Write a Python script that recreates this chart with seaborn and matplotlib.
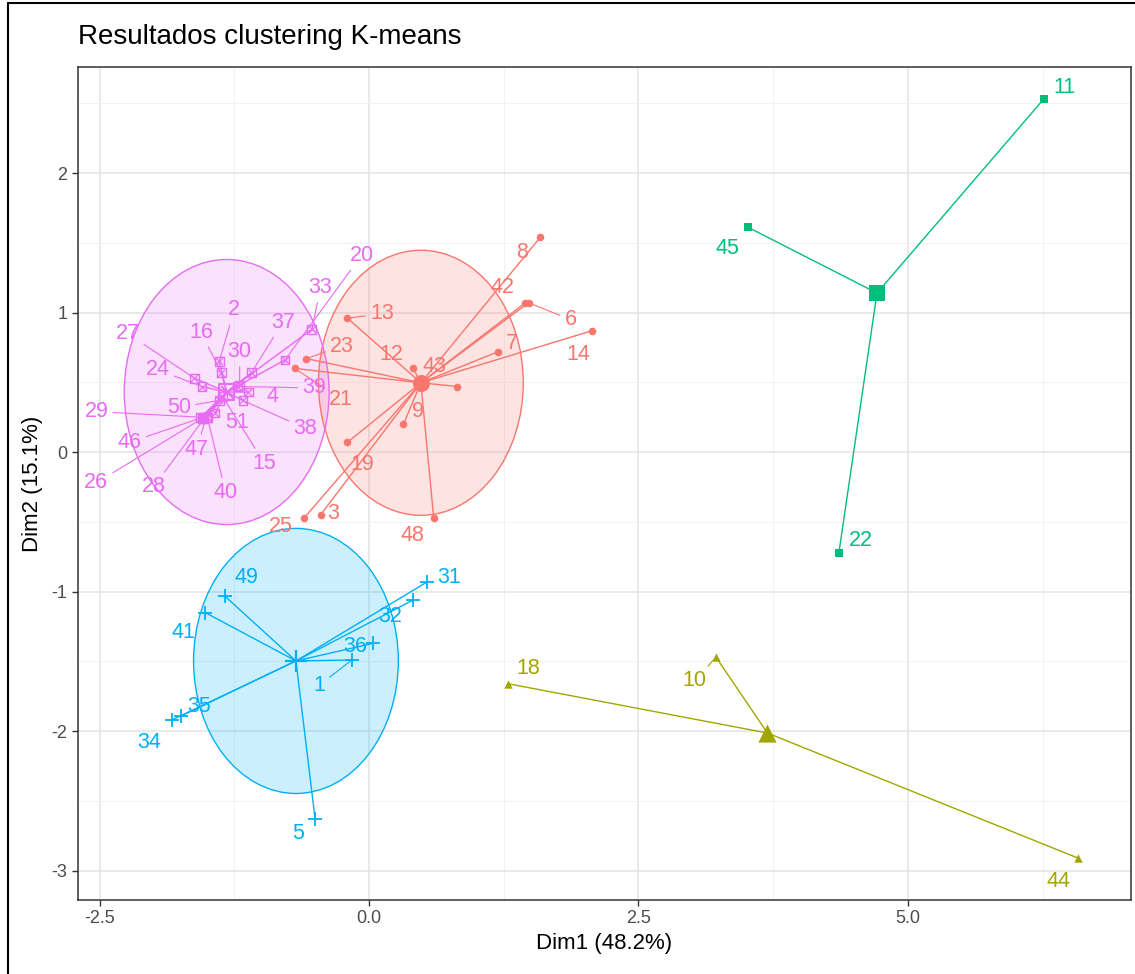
import numpy as np
import pandas as pd
import matplotlib
matplotlib.use("Agg")
import matplotlib.pyplot as plt
import seaborn as sns
from matplotlib.patches import Ellipse
from matplotlib.lines import Line2D

# ---------------- data ----------------
red_ids = [3, 6, 7, 8, 9, 12, 13, 14, 19, 21, 23, 25, 42, 43, 48]
red_x = [-0.45, 1.48, 1.20, 1.59, 0.32, 0.41, -0.20, 2.07, -0.20, -0.69, -0.58, -0.60, 1.45, 0.82, 0.60]
red_y = [-0.45, 1.07, 0.72, 1.54, 0.20, 0.60, 0.96, 0.87, 0.07, 0.60, 0.67, -0.47, 1.07, 0.47, -0.47]
red_lx = [-0.33, 1.87, 1.33, 1.42, 0.45, 0.21, 0.12, 1.94, -0.06, -0.26, -0.25, -0.82, 1.24, 0.61, 0.40]
red_ly = [-0.44, 0.95, 0.78, 1.43, 0.29, 0.70, 0.99, 0.70, -0.09, 0.38, 0.76, -0.53, 1.18, 0.61, -0.60]

olive_ids = [10, 18, 44]
olive_x = [3.22, 1.29, 6.58]
olive_y = [-1.47, -1.66, -2.91]
olive_lx = [3.02, 1.48, 6.40]
olive_ly = [-1.64, -1.55, -3.08]

green_ids = [11, 22, 45]
green_x = [6.26, 4.36, 3.52]
green_y = [2.53, -0.72, 1.61]
green_lx = [6.45, 4.56, 3.33]
green_ly = [2.61, -0.63, 1.46]

blue_ids = [1, 5, 31, 32, 34, 35, 36, 41, 49]
blue_x = [-0.16, -0.50, 0.54, 0.41, -1.83, -1.74, 0.04, -1.52, -1.34]
blue_y = [-1.49, -2.63, -0.93, -1.06, -1.92, -1.89, -1.37, -1.15, -1.03]
blue_lx = [-0.46, -0.66, 0.74, 0.20, -2.04, -1.58, -0.13, -1.72, -1.14]
blue_ly = [-1.67, -2.73, -0.90, -1.18, -2.08, -1.82, -1.39, -1.29, -0.90]

mag_ids = [2, 4, 15, 16, 20, 24, 26, 27, 28, 29, 30, 33, 37, 38, 39, 40, 46, 47, 50, 51]
mag_x = [-1.39, -1.12, -1.36, -1.37, -0.78, -1.55, -1.55, -1.62, -1.53, -1.56, -1.20, -0.53, -1.09, -1.17,
         -1.22, -1.50, -1.54, -1.51, -1.39, -1.43]
mag_y = [0.65, 0.43, 0.40, 0.57, 0.66, 0.47, 0.24, 0.53, 0.24, 0.25, 0.48, 0.88, 0.57, 0.37,
         0.47, 0.25, 0.25, 0.25, 0.37, 0.28]
mag_lx = [-1.25, -0.90, -0.97, -1.56, -0.07, -1.96, -2.53, -2.24, -2.00, -2.53, -1.20, -0.45, -0.80, -0.59,
          -0.51, -1.33, -2.22, -1.60, -1.76, -1.22]
mag_ly = [1.02, 0.40, -0.08, 0.86, 1.41, 0.59, -0.22, 0.85, -0.25, 0.29, 0.72, 1.18, 0.93, 0.17,
          0.46, -0.29, 0.07, 0.02, 0.32, 0.21]

title = "Resultados clustering K-means"
xlabel = "Dim1 (48.2%)"
ylabel = "Dim2 (15.1%)"
x_ticks = [-2.5, 0.0, 2.5, 5.0]
x_ticklabels = ["-2.5", "0.0", "2.5", "5.0"]
y_ticks = [-3, -2, -1, 0, 1, 2]

# ---------------- build table ----------------
groups = [
    (1, red_ids, red_x, red_y, red_lx, red_ly),
    (2, olive_ids, olive_x, olive_y, olive_lx, olive_ly),
    (3, green_ids, green_x, green_y, green_lx, green_ly),
    (4, blue_ids, blue_x, blue_y, blue_lx, blue_ly),
    (5, mag_ids, mag_x, mag_y, mag_lx, mag_ly),
]
rows = []
for k, ids, xs, ys, lxs, lys in groups:
    for i, x, y, lx, ly in zip(ids, xs, ys, lxs, lys):
        rows.append(dict(obs=i, dim1=x, dim2=y, lx=lx, ly=ly, cluster=k))
df = pd.DataFrame(rows)
centers = df.groupby("cluster")[["dim1", "dim2"]].mean().reset_index()

colors = {1: "#F8766D", 2: "#A3A500", 3: "#00BF7D", 4: "#00B0F6", 5: "#E76BF3"}

# ---------------- style ----------------
sns.set_theme(style="white")
plt.rcParams["font.family"] = ["Liberation Sans", "DejaVu Sans"]
plt.rcParams["axes.unicode_minus"] = False

W, H = 1135, 974
fig = plt.figure(figsize=(W / 100, H / 100), dpi=100)
fig.patch.set_facecolor("white")
ax = fig.add_axes([78 / W, 1 - 900 / H, (1131 - 78) / W, (900 - 67) / H])
ax.set_xlim(-2.70, 7.07)
ax.set_ylim(-3.21, 2.76)

# grid
ax.set_xticks(x_ticks)
ax.set_xticklabels(x_ticklabels)
ax.set_yticks(y_ticks)
ax.set_xticks([-1.25, 1.25, 3.75, 6.25], minor=True)
ax.set_yticks([-2.5, -1.5, -0.5, 0.5, 1.5, 2.5], minor=True)
ax.grid(which="major", color="#E4E4E4", lw=1.1, zorder=0)
ax.grid(which="minor", color="#F0F0F0", lw=0.6, zorder=0)
ax.set_axisbelow(True)
ax.tick_params(which="major", direction="out", length=4, width=1, color="#333333",
               labelsize=13, labelcolor="#4D4D4D", bottom=True, left=True)
ax.tick_params(which="minor", length=0)
for s in ax.spines.values():
    s.set_color("#333333")
    s.set_linewidth(1.1)

R = 0.95
for _, crow in centers.iterrows():
    k = int(crow["cluster"])
    c = colors[k]
    sub = df[df.cluster == k]
    cx, cy = crow["dim1"], crow["dim2"]
    if len(sub) > 3:
        ax.add_patch(Ellipse((cx, cy), 2 * R, 2 * R, facecolor=c, alpha=0.2, edgecolor="none", zorder=1))
        ax.add_patch(Ellipse((cx, cy), 2 * R, 2 * R, fill=False, edgecolor=c, lw=1.0, zorder=1.5))
    for x, y in zip(sub.dim1, sub.dim2):
        ax.plot([cx, x], [cy, y], color=c, lw=1.0, zorder=2, solid_capstyle="butt")

# points
for k in [1, 2, 3, 4, 5]:
    c = colors[k]
    sub = df[df.cluster == k]
    cen = centers[centers.cluster == k]
    if k == 1:
        sns.scatterplot(data=sub, x="dim1", y="dim2", marker="o", color=c, s=30, linewidth=0, ax=ax, zorder=3, legend=False)
        sns.scatterplot(data=cen, x="dim1", y="dim2", marker="o", color=c, s=150, linewidth=0, ax=ax, zorder=3, legend=False)
    elif k == 2:
        sns.scatterplot(data=sub, x="dim1", y="dim2", marker="^", color=c, s=36, linewidth=0, ax=ax, zorder=3, legend=False)
        sns.scatterplot(data=cen, x="dim1", y="dim2", marker="^", color=c, s=170, linewidth=0, ax=ax, zorder=3, legend=False)
    elif k == 3:
        sns.scatterplot(data=sub, x="dim1", y="dim2", marker="s", color=c, s=30, linewidth=0, ax=ax, zorder=3, legend=False)
        sns.scatterplot(data=cen, x="dim1", y="dim2", marker="s", color=c, s=140, linewidth=0, ax=ax, zorder=3, legend=False)
    elif k == 4:
        sns.scatterplot(data=sub, x="dim1", y="dim2", marker="+", color=c, s=100, linewidth=1.3, ax=ax, zorder=3, legend=False)
        sns.scatterplot(data=cen, x="dim1", y="dim2", marker="+", color=c, s=260, linewidth=1.6, ax=ax, zorder=3, legend=False)
    else:
        sns.scatterplot(data=sub, x="dim1", y="dim2", marker="s", facecolor="none", edgecolor=c, s=40, linewidth=1.0, ax=ax, zorder=3, legend=False)
        sns.scatterplot(data=sub, x="dim1", y="dim2", marker="x", color=c, s=26, linewidth=0.9, ax=ax, zorder=3, legend=False)
        sns.scatterplot(data=cen, x="dim1", y="dim2", marker="s", facecolor="none", edgecolor=c, s=120, linewidth=1.4, ax=ax, zorder=3, legend=False)
        sns.scatterplot(data=cen, x="dim1", y="dim2", marker="x", color=c, s=80, linewidth=1.4, ax=ax, zorder=3, legend=False)

# labels (repelled style)
tr = ax.transData
for _, r in df.iterrows():
    c = colors[int(r.cluster)]
    p0 = tr.transform((r.dim1, r.dim2))
    p1 = tr.transform((r.lx, r.ly))
    dist = np.hypot(*(p1 - p0))
    arrow = dict(arrowstyle="-", color=c, lw=0.8, shrinkA=1, shrinkB=1) if dist > 32 else None
    ax.annotate(str(int(r.obs)), xy=(r.dim1, r.dim2), xytext=(r.lx, r.ly), color=c,
                fontsize=15.5, ha="center", va="center", arrowprops=arrow, zorder=4)

ax.set_xlabel(xlabel, fontsize=16, color="black", labelpad=4)
ax.set_ylabel(ylabel, fontsize=16, color="black", labelpad=6)

fig.text(78 / W, 1 - 37 / H, title, fontsize=20, ha="left", va="center", color="black")

# screenshot frame
fig.add_artist(Line2D([8 / W, 8 / W], [0, 1 - 3 / H], transform=fig.transFigure, color="black", lw=1.5))
fig.add_artist(Line2D([8 / W, 1], [1 - 3 / H, 1 - 3 / H], transform=fig.transFigure, color="black", lw=1.5))

fig.savefig("out.png", dpi=100)
